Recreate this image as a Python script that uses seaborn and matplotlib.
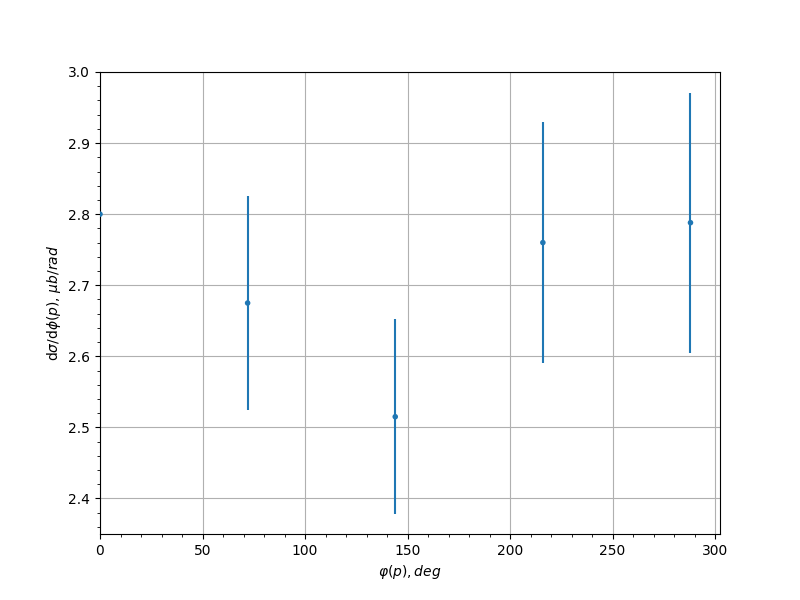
import numpy as np
import pandas as pd
import seaborn as sns
import matplotlib
matplotlib.use("Agg")
import matplotlib.pyplot as plt
from matplotlib.ticker import AutoMinorLocator

# data
phi = [0, 72, 144, 216, 288]
xsec = [2.800, 2.675, 2.515, 2.760, 2.788]
xsec_err = [0.0, 0.150, 0.137, 0.170, 0.183]

df = pd.DataFrame({"phi": phi, "xsec": xsec, "err": xsec_err})

sns.set_style("white", {"text.color": "black", "axes.labelcolor": "black",
                        "xtick.color": "black", "ytick.color": "black"})
fig, ax = plt.subplots(figsize=(8, 6), dpi=100)

ax.errorbar(df["phi"], df["xsec"], yerr=df["err"], fmt="none", ecolor="#1f77b4")
sns.scatterplot(data=df, x="phi", y="xsec", ax=ax, color="#1f77b4", s=16,
                edgecolor="none", zorder=3)

ax.set_xlim(left=0, right=302.4)
ax.set_ylim(2.35, 3.0)
ax.xaxis.set_minor_locator(AutoMinorLocator(5))
ax.yaxis.set_minor_locator(AutoMinorLocator(5))
ax.tick_params(which="both", direction="out", left=True, bottom=True)
ax.tick_params(which="major", length=3.5, width=0.8)
ax.tick_params(which="minor", length=2, width=0.6)
ax.grid(True, which="major", color="#b0b0b0", linewidth=0.8)
for s in ax.spines.values():
    s.set_color("black")
    s.set_linewidth(0.8)

ax.set_xlabel(r"$\varphi(p), deg$")
ax.set_ylabel(r"d$\sigma$/d$\phi(p)$, $\mu b/rad$")

fig.savefig("out.png", dpi=100)
